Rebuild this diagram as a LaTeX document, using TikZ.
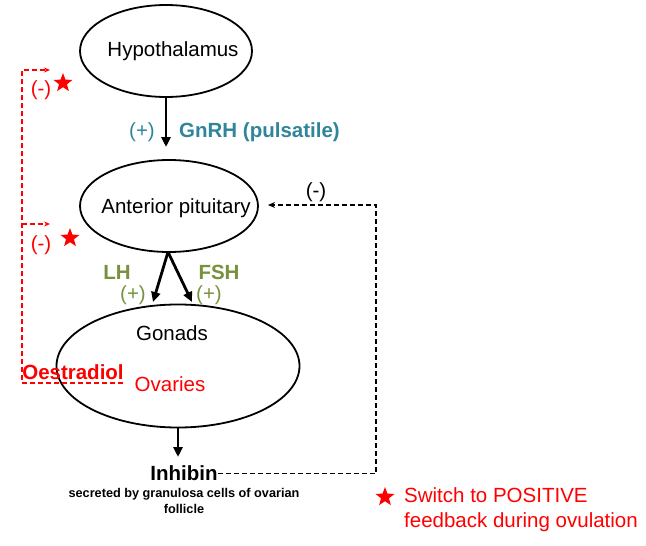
\documentclass[tikz,border=0pt]{standalone}
\usepackage{fontspec}
\setmainfont{Liberation Sans}
\usetikzlibrary{shapes.geometric,arrows.meta,positioning}
\definecolor{gnrhblue}{RGB}{49,133,155}
\definecolor{lhgreen}{RGB}{118,146,60}

\begin{document}
\begin{tikzpicture}[x=1pt,y=-1pt,
  organ/.style={draw,ellipse,line width=1.8pt,inner sep=0pt},
  hormone/.style={-{Triangle[length=10pt,width=9pt]},line width=2.8pt},
  fbred/.style={red,line width=1.3pt,dash pattern=on 5pt off 3pt,-{Stealth[length=6pt,width=5pt]}},
  fbblack/.style={black,line width=1.3pt,dash pattern=on 5pt off 3pt,-{Stealth[length=7pt,width=6pt]}},
  lbl/.style={inner sep=0pt,yshift=-1.5pt,font=\fontsize{20.5}{24}\selectfont},
  boldlbl/.style={inner sep=0pt,yshift=-1.5pt,font=\fontsize{20.5}{24}\selectfont\bfseries},
  redstar/.style={star,star points=5,star point ratio=2.4,fill=red,inner sep=0pt,minimum size=20pt}]
\useasboundingbox (0,0) rectangle (646,546);

%Shape: Ellipse
\node[organ,minimum width=172pt,minimum height=92pt] (hyp) at (166,51) {};
\node[organ,minimum width=178pt,minimum height=92pt] (pit) at (169,206) {};
\node[organ,minimum width=243pt,minimum height=123pt] (gon) at (178,366) {};

% Text Node
\node[lbl] (hyptxt) at (173,50) {Hypothalamus};
\node[lbl] (pittxt) at (176,207) {Anterior pituitary};
\node[lbl] (gontxt) at (172,332) {Gonads};
\node[lbl,red] (ovtxt) at (170,383) {Ovaries};
\node[boldlbl] (inh) at (184,472) {Inhibin};
\node[inner sep=0pt,align=center,font=\fontsize{12.7}{16}\selectfont\bfseries] (inhnote) at (184,501) {secreted by granulosa cells of ovarian\\follicle};

%Straight Lines
\coordinate (gnrhend) at (166,147);
\draw[hormone] (hyp) -- (gnrhend);
\node[lbl,gnrhblue] (gnrhplus) at (142,131) {(+)};
\node[boldlbl,gnrhblue,anchor=west] (gnrh) at (179,131) {GnRH (pulsatile)};

\coordinate (split) at (168,252);
\coordinate (lhend) at (153,302);
\coordinate (fshend) at (192,302);
\draw[hormone] (split) -- (lhend);
\draw[hormone] (split) -- (fshend);
\node[boldlbl,lhgreen] (lh) at (117,271) {LH};
\node[boldlbl,lhgreen] (fsh) at (219,271) {FSH};
\node[lbl,lhgreen] (lhplus) at (133,294) {(+)};
\node[lbl,lhgreen] (fshplus) at (209,294) {(+)};

\coordinate (inhend) at (178,457);
\draw[hormone] (gon.south) -- (inhend);

% inhibin feedback
\coordinate (inhcorner) at (376,472);
\coordinate (pitend) at (268,205);
\draw[fbblack] (inh.east) -- (inh.east -| inhcorner) |- (pitend);
\node[lbl] (inhminus) at (316,191) {(-)};

% oestradiol feedback
\node[boldlbl,red] (oes) at (73,371) {Oestradiol};
\coordinate (oesleft) at (22,383);
\coordinate (oesright) at (123,383);
\coordinate (fbtop) at (50,70);
\coordinate (fbmid) at (50,224);
\draw[fbred] (oesright) -- (oesleft) |- (fbtop);
\draw[fbred] (oesleft |- fbmid) -- (fbmid);
\node[lbl,red] (hypminus) at (41,89) {(-)};
\node[redstar] (hypstar) at (63,83) {};
\node[lbl,red] (pitminus) at (41,244) {(-)};
\node[redstar] (pitstar) at (70,238) {};

% legend
\node[redstar] (keystar) at (385,497) {};
\node[lbl,red,align=left,anchor=west,font=\fontsize{20.5}{25}\selectfont] (keytxt) at (404,508.5) {Switch to POSITIVE\\feedback during ovulation};

\end{tikzpicture}
\end{document}
